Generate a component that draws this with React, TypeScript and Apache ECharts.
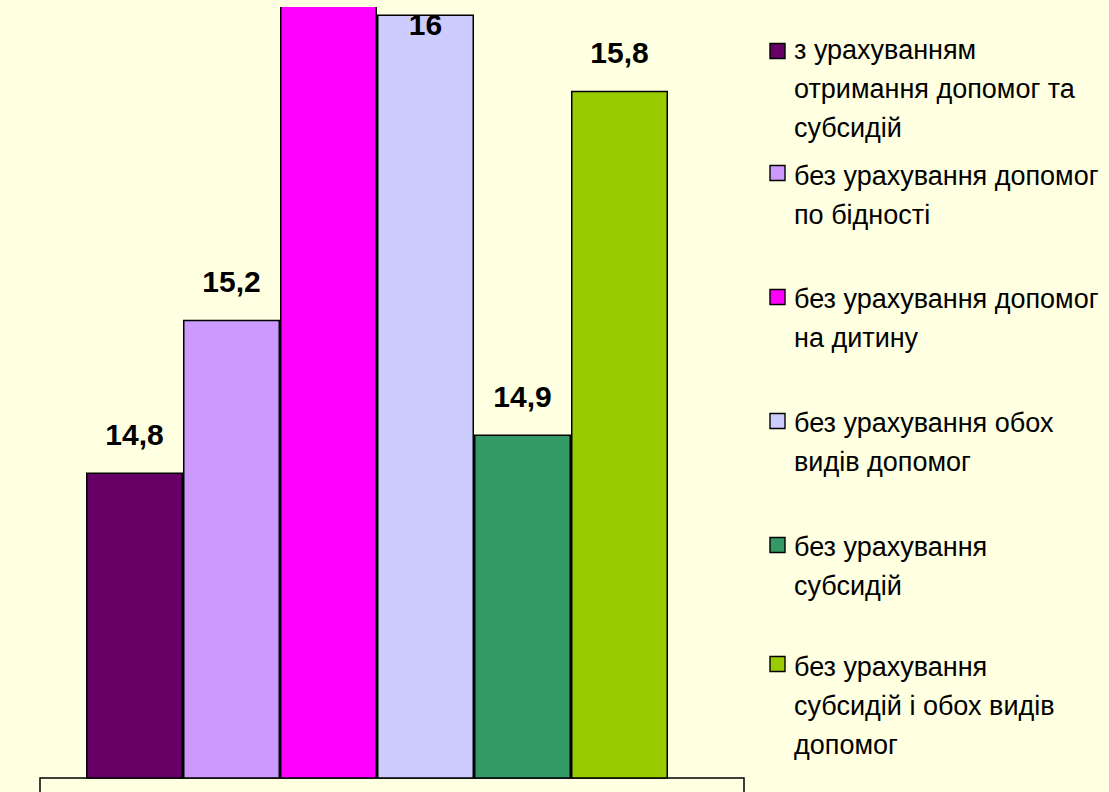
import React, { useEffect, useRef } from "react";
import * as echarts from "echarts";

const categories = [""];
const seriesNames = [
  "з урахуванням отримання допомог та субсидій",
  "без урахування допомог по бідності",
  "без урахування допомог на дитину",
  "без урахування обох видів допомог",
  "без урахування субсидій",
  "без урахування субсидій і обох видів допомог",
];
const legendLabels = [
  "з урахуванням\nотримання допомог та\nсубсидій",
  "без урахування допомог\nпо бідності",
  "без урахування допомог\nна дитину",
  "без урахування обох\nвидів допомог",
  "без урахування\nсубсидій",
  "без урахування\nсубсидій і обох видів\nдопомог",
];
const values = [14.8, 15.2, 16.1, 16, 14.9, 15.8];
const colors = ["#660066", "#CC99FF", "#FF00FF", "#CCCCFF", "#339966", "#99CC00"];

// layout (not data), page coordinates
const legendTextMid = [50, 176, 299, 423, 547, 667];
const legendMarkMid = [51, 173, 297, 421, 545, 664];
const BG = "#FFFFE1";
const FONT = "'Liberation Sans', Arial, sans-serif";
const LINE_H = 39;
const CLIP_TOP = 7; // visible chart area starts 7px below the page top
const EXTRA = 100; // chart canvas extends above the visible area
const SHIFT = EXTRA - CLIP_TOP; // page y -> chart y
const CHART_H = 792 - CLIP_TOP + EXTRA;

export default function App() {
  const ref = useRef<HTMLDivElement>(null);
  useEffect(() => {
    if (!ref.current) return;
    const chart = echarts.init(ref.current, null, { renderer: "svg" });
    const series = seriesNames.map((name, i) => {
      const isClipped = i === 2;
      const isInside = i === 3;
      return {
        name,
        type: "bar",
        data: [values[i]],
        barWidth: 97,
        barGap: "0%",
        itemStyle: { color: colors[i], borderColor: "#000", borderWidth: 1.5 },
        label: {
          show: !isClipped,
          position: isInside ? ["50%", 10] : "top",
          align: "center",
          verticalAlign: isInside ? "middle" : undefined,
          distance: 23,
          fontFamily: FONT,
          fontWeight: "bold",
          fontSize: 30,
          color: "#000",
          formatter: (p: any) => String(p.value).replace(".", ","),
        },
      };
    });
    const legendGraphics: any[] = [];
    legendLabels.forEach((lab, i) => {
      legendGraphics.push({
        type: "rect",
        shape: { x: 770, y: legendMarkMid[i] - 7.5 + SHIFT, width: 15, height: 15 },
        style: { fill: colors[i], stroke: "#000", lineWidth: 1.4 },
      });
      legendGraphics.push({
        type: "text",
        x: 794,
        y: legendTextMid[i] - LINE_H / 2 + SHIFT,
        style: {
          text: lab,
          fill: "#000",
          fontSize: 27,
          fontFamily: FONT,
          lineHeight: LINE_H,
          verticalAlign: "top",
          align: "left",
        },
      });
    });
    chart.setOption({
      animation: false,
      backgroundColor: BG,
      grid: { left: 40, width: 674, top: 12, bottom: 14, containLabel: false },
      xAxis: { type: "category", data: categories, show: false },
      yAxis: { type: "value", min: 14, max: 16.25, show: false, splitLine: { show: false } },
      legend: { show: false },
      series,
      graphic: [
        {
          type: "rect",
          shape: { x: 40, y: 778 + SHIFT, width: 704, height: 40 },
          style: { fill: BG, stroke: "#000", lineWidth: 1.5 },
          z: 0,
        },
        ...legendGraphics,
      ],
    });
    return () => chart.dispose();
  }, []);
  return (
    <div
      style={{ position: "fixed", left: 0, top: 0, width: 1109, height: 792, background: BG, overflow: "hidden" }}
    >
      <div
        style={{ position: "absolute", left: 0, top: CLIP_TOP, width: 1109, height: 792 - CLIP_TOP, overflow: "hidden" }}
      >
        <div
          ref={ref}
          style={{ position: "absolute", left: 0, top: -EXTRA, width: 1109, height: CHART_H }}
        />
      </div>
    </div>
  );
}
